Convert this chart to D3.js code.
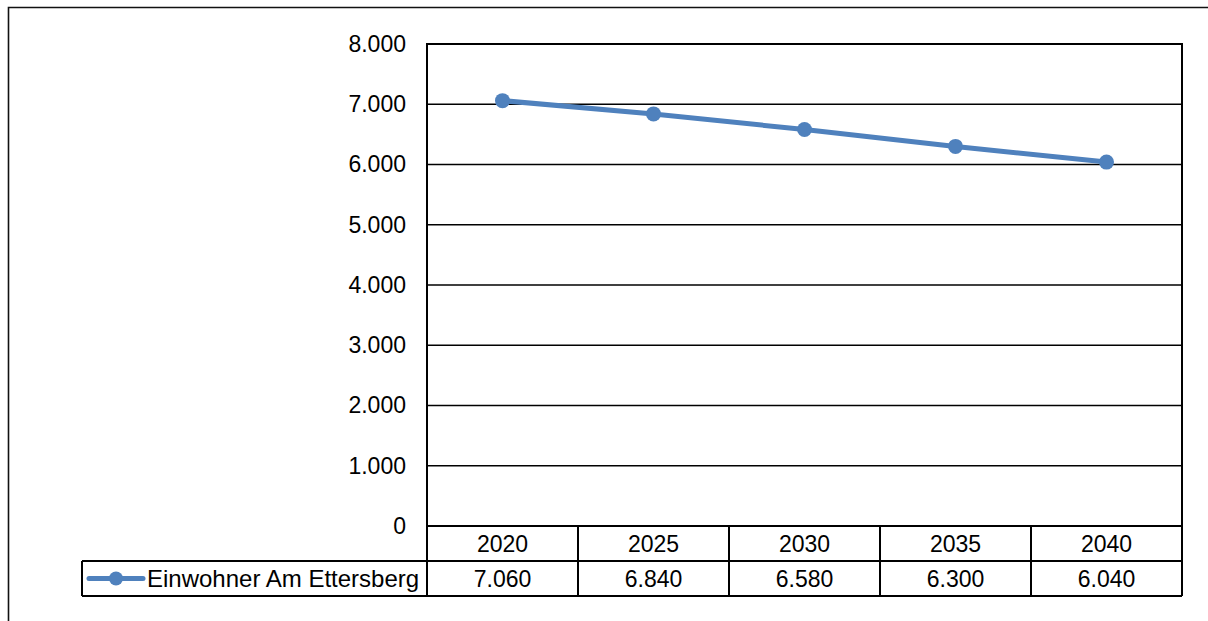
<!DOCTYPE html>
<html>
<head>
<meta charset="utf-8">
<script src="https://cdn.jsdelivr.net/npm/d3@7"></script>
<style>
  html, body { margin: 0; padding: 0; background: #fff; }
  svg { display: block; font-family: Arial, "Liberation Sans", sans-serif; }
</style>
</head>
<body>
<svg id="chart" width="1208" height="621"></svg>
<script>
// Population projection for Am Ettersberg
const years = ["2020", "2025", "2030", "2035", "2040"];
const residents = [7060, 6840, 6580, 6300, 6040];
const yTicks = [0, 1000, 2000, 3000, 4000, 5000, 6000, 7000, 8000];
const seriesName = "Einwohner Am Ettersberg";

const svg = d3.select("#chart");
const lineColor = "#4F81BD";
const fontSize = 23;
const legendFontSize = 24;

const plot = { left: 427, right: 1182, top: 44, bottom: 526 };
const rowH = 35;

const fmt = v => d3.format(",")(v).replace(/,/g, ".");

const x = d3.scaleBand().domain(years).range([plot.left, plot.right]);
const y = d3.scaleLinear().domain([0, 8000]).range([plot.bottom, plot.top]);

// outer chart frame
svg.append("path")
  .attr("d", `M8.5,621 V7.5 H1208`)
  .attr("fill", "none").attr("stroke", "#111").attr("stroke-width", 1.6);

// horizontal gridlines
svg.append("g").selectAll("line").data(yTicks).join("line")
  .attr("x1", plot.left).attr("x2", plot.right)
  .attr("y1", d => y(d)).attr("y2", d => y(d))
  .attr("stroke", "#000").attr("stroke-width", 1.5);

// plot frame
svg.append("rect")
  .attr("x", plot.left).attr("y", plot.top)
  .attr("width", plot.right - plot.left).attr("height", plot.bottom - plot.top)
  .attr("fill", "none").attr("stroke", "#000").attr("stroke-width", 2);

// y axis labels
const yAxis = d3.axisLeft(y).tickValues(yTicks).tickFormat(fmt).tickSize(0).tickPadding(21);
const gy = svg.append("g").attr("transform", `translate(${plot.left},0)`).call(yAxis);
gy.select(".domain").remove();
gy.selectAll("text").attr("font-size", fontSize).attr("fill", "#000")
  .attr("font-family", "Arial, 'Liberation Sans', sans-serif");

// data table below the plot
const tbl = svg.append("g");
const tableTop = plot.bottom, tableMid = plot.bottom + rowH, tableBot = plot.bottom + 2 * rowH;
const legendLeft = 82;

// row lines
tbl.append("line").attr("x1", legendLeft).attr("x2", plot.right)
  .attr("y1", tableMid).attr("y2", tableMid);
tbl.append("line").attr("x1", legendLeft).attr("x2", plot.right)
  .attr("y1", tableBot).attr("y2", tableBot);
tbl.append("line").attr("x1", legendLeft).attr("x2", legendLeft)
  .attr("y1", tableMid).attr("y2", tableBot);
// column dividers
tbl.selectAll("line.col").data(years.concat(["end"])).join("line")
  .attr("class", "col")
  .attr("x1", d => d === "end" ? plot.right : x(d))
  .attr("x2", d => d === "end" ? plot.right : x(d))
  .attr("y1", tableTop).attr("y2", tableBot);
tbl.selectAll("line").attr("stroke", "#000").attr("stroke-width", 2);

// year labels
tbl.selectAll("text.year").data(years).join("text")
  .attr("class", "year")
  .attr("x", d => x(d) + x.bandwidth() / 2)
  .attr("y", tableTop + rowH / 2)
  .attr("dy", "0.36em")
  .attr("text-anchor", "middle")
  .attr("font-size", fontSize)
  .text(d => d);

// value labels
tbl.selectAll("text.val").data(residents).join("text")
  .attr("class", "val")
  .attr("x", (d, i) => x(years[i]) + x.bandwidth() / 2)
  .attr("y", tableMid + rowH / 2)
  .attr("dy", "0.36em")
  .attr("text-anchor", "middle")
  .attr("font-size", fontSize)
  .text(d => fmt(d));

// legend key inside the table
const ly = tableMid + rowH / 2;
tbl.append("line").attr("x1", 89).attr("x2", 143).attr("y1", ly).attr("y2", ly)
  .attr("stroke", lineColor).attr("stroke-width", 5).attr("stroke-linecap", "round");
tbl.append("circle").attr("cx", 116).attr("cy", ly).attr("r", 7).attr("fill", lineColor);
tbl.append("text").attr("x", 147).attr("y", ly).attr("dy", "0.36em")
  .attr("font-size", legendFontSize).text(seriesName);

// series line and markers
const line = d3.line()
  .x((d, i) => x(years[i]) + x.bandwidth() / 2)
  .y(d => y(d));
svg.append("path").datum(residents)
  .attr("d", line).attr("fill", "none")
  .attr("stroke", lineColor).attr("stroke-width", 5).attr("stroke-linejoin", "round");
svg.append("g").selectAll("circle").data(residents).join("circle")
  .attr("cx", (d, i) => x(years[i]) + x.bandwidth() / 2)
  .attr("cy", d => y(d))
  .attr("r", 7.5)
  .attr("fill", lineColor);
</script>
</body>
</html>
